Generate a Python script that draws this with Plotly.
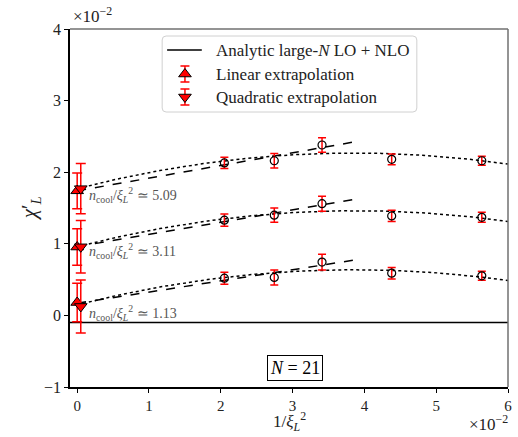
import numpy as np
import plotly.graph_objects as go

# ---- data (units of 1e-2) ----
inv_xi2 = [2.05, 2.745, 3.41, 4.38, 5.635]
chi_high = [2.13, 2.16, 2.38, 2.18, 2.16]
err_high = [0.08, 0.10, 0.10, 0.075, 0.063]
chi_mid = [1.33, 1.40, 1.56, 1.39, 1.37]
err_mid = [0.086, 0.10, 0.105, 0.077, 0.07]
chi_low = [0.52, 0.53, 0.745, 0.59, 0.553]
err_low = [0.084, 0.105, 0.11, 0.08, 0.063]

lin_x = [0.0, 0.0, 0.0]
lin_val = [1.74, 0.955, 0.18]
lin_err = [0.25, 0.256, 0.27]
quad_x = [0.05, 0.05, 0.05]
quad_val = [1.77, 0.958, 0.125]
quad_err = [0.35, 0.367, 0.37]

# fit coefficients: linear (a, b), quadratic (a, b, c)
lin_a = [1.74, 0.96, 0.17]
lin_b = [0.177, 0.171, 0.156]
quad_a = [1.77, 0.958, 0.148]
quad_b = [0.2584, 0.2593, 0.2534]
quad_c = [-0.03354, -0.03338, -0.0328]
lin_xmax = 3.89
quad_xmax = 6.0

analytic_val = -0.1
ncool_labels = ["5.09", "3.11", "1.13"]
label_y = [1.684, 0.902, 0.04]

x_ticks = [0, 1, 2, 3, 4, 5, 6]
y_ticks = [-1, 0, 1, 2, 3, 4]

legend_labels = ["Analytic large-<i>N</i> LO + NLO", "Linear extrapolation",
                 "Quadratic extrapolation"]

FONT = "Liberation Serif"
W, H = 518, 437
L, R, T, B = 70, 6, 29, 50

def px2paper(px, py):
    return (px - L) / (W - L - R), (H - B - py) / (H - T - B)

fig = go.Figure()

# analytic line
fig.add_trace(go.Scatter(x=[-0.1, 6.0], y=[analytic_val, analytic_val], mode="lines",
                         line=dict(color="black", width=1.5), showlegend=False))

# fits
for i in range(3):
    xl = np.linspace(0, lin_xmax, 50)
    fig.add_trace(go.Scatter(x=xl, y=lin_a[i] + lin_b[i] * xl, mode="lines",
                             line=dict(color="black", width=1.5, dash="dash"),
                             showlegend=False, hoverinfo="skip"))
    xq = np.linspace(0, quad_xmax, 100)
    fig.add_trace(go.Scatter(x=xq, y=quad_a[i] + quad_b[i] * xq + quad_c[i] * xq**2,
                             mode="lines", line=dict(color="black", width=1.5, dash="dot"),
                             showlegend=False, hoverinfo="skip"))

# data points
for vals, errs in [(chi_high, err_high), (chi_mid, err_mid), (chi_low, err_low)]:
    fig.add_trace(go.Scatter(x=inv_xi2, y=vals, mode="markers",
                             marker=dict(symbol="circle-open", size=8, color="black",
                                         line=dict(width=1.2, color="black")),
                             error_y=dict(type="data", array=errs, color="red",
                                          thickness=1.5, width=4),
                             showlegend=False))

# extrapolations
tri = dict(size=11, color="red", line=dict(width=1, color="black"))
fig.add_trace(go.Scatter(x=lin_x, y=lin_val, mode="markers", showlegend=False,
                         marker=dict(symbol="triangle-up", **tri),
                         error_y=dict(type="data", array=lin_err, color="red",
                                      thickness=1.5, width=5)))
fig.add_trace(go.Scatter(x=quad_x, y=quad_val, mode="markers", showlegend=False,
                         marker=dict(symbol="triangle-down", **tri),
                         error_y=dict(type="data", array=quad_err, color="red",
                                      thickness=1.5, width=5)))

# ---- custom legend on an overlay pixel axis ----
lg_x0, lg_x1, lg_y0, lg_y1 = 163, 420, 36, 112
row_y = [50, 74, 97]
fig.add_trace(go.Scatter(x=[168, 203], y=[row_y[0], row_y[0]], mode="lines",
                         line=dict(color="black", width=1.5), xaxis="x2", yaxis="y2",
                         showlegend=False, hoverinfo="skip"))
fig.add_trace(go.Scatter(x=[186], y=[row_y[1]], mode="markers", xaxis="x2", yaxis="y2",
                         marker=dict(symbol="triangle-up", **tri), showlegend=False,
                         error_y=dict(type="data", array=[8], color="red", thickness=1.5, width=4.5),
                         hoverinfo="skip"))
fig.add_trace(go.Scatter(x=[186], y=[row_y[2]], mode="markers", xaxis="x2", yaxis="y2",
                         marker=dict(symbol="triangle-down", **tri), showlegend=False,
                         error_y=dict(type="data", array=[8], color="red", thickness=1.5, width=4.5),
                         hoverinfo="skip"))

annotations = []
for lab, yv in zip(legend_labels, row_y):
    annotations.append(dict(x=215, y=yv, xref="x2", yref="y2", xanchor="left", yanchor="middle",
                            showarrow=False, text=lab,
                            font=dict(family=FONT, size=17, color="#222")))

for lab, yv in zip(ncool_labels, label_y):
    annotations.append(dict(x=0.13, y=yv, xref="x", yref="y", xanchor="left", yanchor="middle",
                            showarrow=False,
                            text="<i>n</i><sub>cool</sub>/<i>ξ</i><sub><i>L</i></sub><sup>2</sup> ≃ " + lab,
                            font=dict(family=FONT, size=14, color="#555555")))

annotations.append(dict(x=3.03, y=-0.74, xref="x", yref="y", showarrow=False,
                        text="<i>N</i> = 21", font=dict(family=FONT, size=18, color="black"),
                        bordercolor="black", borderwidth=1, borderpad=2, bgcolor="white"))

xp, yp = px2paper(71, 28)
annotations.append(dict(x=xp, y=yp, xref="paper", yref="paper", xanchor="left", yanchor="bottom",
                        showarrow=False, text="×10<sup>−2</sup>",
                        font=dict(family=FONT, size=17, color="#222")))
xp, yp = px2paper(514, 423)
annotations.append(dict(x=xp, y=yp, xref="paper", yref="paper", xanchor="right", yanchor="middle",
                        showarrow=False, text="×10<sup>−2</sup>",
                        font=dict(family=FONT, size=17, color="#222")))
xp, yp = px2paper(291, 421)
annotations.append(dict(x=xp, y=yp, xref="paper", yref="paper", xanchor="center", yanchor="middle",
                        showarrow=False,
                        text="1/<i>ξ</i><sub><i>L</i></sub><sup>2</sup>",
                        font=dict(family=FONT, size=17, color="#222")))
xp, yp = px2paper(30, 208)
annotations.append(dict(x=xp, y=yp, xref="paper", yref="paper", xanchor="center", yanchor="middle",
                        showarrow=False, textangle=-90,
                        text="<i>χ</i>′<sub><i>L</i></sub>",
                        font=dict(family=FONT, size=21, color="#222")))

r = 4
legend_path = (f"M {lg_x0 + r},{lg_y0} L {lg_x1 - r},{lg_y0} Q {lg_x1},{lg_y0} {lg_x1},{lg_y0 + r} "
               f"L {lg_x1},{lg_y1 - r} Q {lg_x1},{lg_y1} {lg_x1 - r},{lg_y1} "
               f"L {lg_x0 + r},{lg_y1} Q {lg_x0},{lg_y1} {lg_x0},{lg_y1 - r} "
               f"L {lg_x0},{lg_y0 + r} Q {lg_x0},{lg_y0} {lg_x0 + r},{lg_y0} Z")

shapes = [
    dict(type="path", xref="x2", yref="y2", path=legend_path, fillcolor="white",
         line=dict(color="#d0d0d0", width=1), layer="below"),
    dict(type="line", xref="paper", yref="paper", x0=0, x1=1, y0=1, y1=1,
         line=dict(color="#707070", width=1.5)),
    dict(type="line", xref="paper", yref="paper", x0=1, x1=1, y0=0, y1=1,
         line=dict(color="#707070", width=1.5)),
]

fig.update_layout(
    width=W, height=H,
    margin=dict(l=L, r=R, t=T, b=B),
    paper_bgcolor="white", plot_bgcolor="white",
    font=dict(family=FONT, size=15, color="#222"),
    showlegend=False,
    xaxis=dict(range=[-0.1, 6.0], tickvals=x_ticks, showgrid=False, zeroline=False,
               showline=True, linecolor="black", linewidth=1.5, ticks="outside",
               ticklen=4, tickcolor="black", tickfont=dict(family=FONT, size=15, color="#222")),
    yaxis=dict(range=[-1, 4], tickvals=y_ticks, showgrid=False, zeroline=False,
               showline=True, linecolor="black", linewidth=1.5, ticks="outside",
               ticklen=4, tickcolor="black", tickfont=dict(family=FONT, size=16, color="#222")),
    xaxis2=dict(overlaying="x", range=[L, W - R], visible=False, fixedrange=True),
    yaxis2=dict(overlaying="y", range=[H - B, T], visible=False, fixedrange=True),
    annotations=annotations,
    shapes=shapes,
)

fig.write_html("out.html", post_script="document.body.style.margin='0';",
               config={"displayModeBar": False})
